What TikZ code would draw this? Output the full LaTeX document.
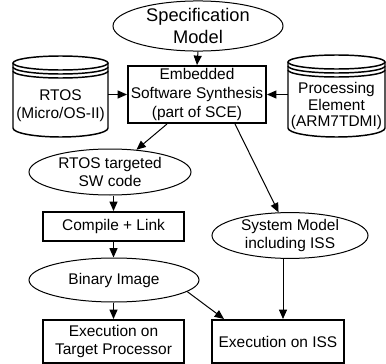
\documentclass[tikz,border=0pt]{standalone}
\usepackage{fontspec}
\setmainfont{Liberation Sans}
\usetikzlibrary{shapes.geometric,arrows.meta}
\begin{document}
\begin{tikzpicture}[x=0.75pt,y=-0.75pt,
  every node/.style={font=\fontsize{11.6pt}{13.5pt}\selectfont, align=center, inner sep=0pt},
  oval/.style={ellipse, draw, line width=0.75pt},
  boxnode/.style={rectangle, draw, line width=1.5pt},
  conn/.style={line width=0.75pt, -{Triangle[length=7pt,width=6pt]}},
  cyl/.style={line width=1.1pt}]
\useasboundingbox (0,0) rectangle (386,364);
% cylinders
\draw[cyl] (60.5,63) ellipse [x radius=47.5, y radius=7];
\draw[cyl] (13,67) arc[start angle=180,end angle=0,x radius=47.5,y radius=7];
\draw[cyl] (13,71) arc[start angle=180,end angle=0,x radius=47.5,y radius=7];
\draw[cyl] (13,63) -- (13,128) arc[start angle=180,end angle=0,x radius=47.5,y radius=9] -- (108,63);
\draw[cyl] (336.5,62) ellipse [x radius=48.5, y radius=7];
\draw[cyl] (288,66) arc[start angle=180,end angle=0,x radius=48.5,y radius=7];
\draw[cyl] (288,70) arc[start angle=180,end angle=0,x radius=48.5,y radius=7];
\draw[cyl] (288,62) -- (288,128) arc[start angle=180,end angle=0,x radius=48.5,y radius=9] -- (385,62);
% nodes
\node[oval, minimum width=127.5pt, minimum height=36pt, font=\fontsize{13.7pt}{16.5pt}\selectfont] (spec) at (198,26) {Specification\\Model};
\node[boxnode, minimum width=103.5pt, minimum height=42.75pt, font=\fontsize{11.6pt}{14.2pt}\selectfont] (ess) at (197,94.5) {Embedded\\Software Synthesis\\(part of SCE)};
\node[minimum width=71.25pt] (rtos) at (60.5,106) {RTOS\\(Micro/OS-II)};
\node[minimum width=72.75pt, font=\fontsize{11.6pt}{12.6pt}\selectfont] (pe) at (336.5,106) {Processing\\Element\\(ARM7TDMI)};
\node[oval, minimum width=121.5pt, minimum height=34.5pt] (rtoscode) at (110,172) {RTOS targeted\\SW code};
\node[boxnode, minimum width=105.75pt, minimum height=21.75pt] (compile) at (113.5,226.5) {Compile + Link};
\node[oval, minimum width=117pt, minimum height=33.75pt] (sysmodel) at (290,235.5) {System Model\\including ISS};
\node[oval, minimum width=127.5pt, minimum height=33pt] (binary) at (114,280) {Binary Image};
\node[boxnode, minimum width=105.75pt, minimum height=32.25pt] (exectarget) at (113.5,341.5) {Execution on\\Target Processor};
\node[boxnode, minimum width=99pt, minimum height=32.25pt] (execiss) at (278,341.5) {Execution on ISS};
% connectors
\draw[conn] (spec.south) -- (ess.north);
\draw[conn] (rtos.east |- ess.west) -- (ess.west);
\draw[conn] (pe.west |- ess.east) -- (ess.east);
\draw[conn] ([xshift=-22.5pt]ess.south) -- (rtoscode);
\draw[conn] ([xshift=28.5pt]ess.south) -- (sysmodel);
\draw[conn] (compile.north |- rtoscode.south) -- (compile.north);
\draw[conn] (compile.south) -- (compile.south |- binary.north);
\draw[conn] (exectarget.north |- binary.south) -- (exectarget.north);
\draw[conn] (binary.-9) -- ([xshift=9.75pt]execiss.north west);
\draw[conn] ([xshift=-5.25pt]sysmodel.south) -- ([xshift=-5.25pt]sysmodel.south |- execiss.north);
\end{tikzpicture}
\end{document}
